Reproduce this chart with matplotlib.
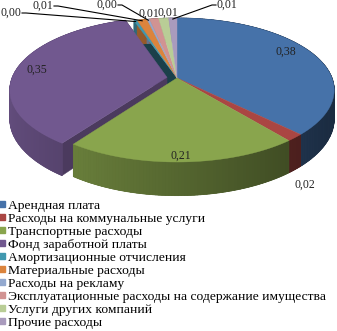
import numpy as np
import matplotlib.pyplot as plt
from matplotlib.lines import Line2D
from matplotlib.colors import to_rgb

plt.rcParams['font.family'] = ['Liberation Serif', 'DejaVu Serif']

categories = ['Арендная плата', 'Расходы на коммунальные услуги', 'Транспортные расходы',
              'Фонд заработной платы', 'Амортизационные отчисления', 'Материальные расходы',
              'Расходы на рекламу', 'Эксплуатационные расходы на содержание имущества',
              'Услуги других компаний', 'Прочие расходы']
shares = [0.376, 0.016, 0.206, 0.35, 0.004, 0.012, 0.003, 0.011, 0.012, 0.010]
colors = ['#4672A9', '#AA4643', '#89A54D', '#71588F', '#4198AF',
          '#DB843D', '#93A9CF', '#D19392', '#B9CD96', '#A99BBD']
pulled = 3  # Фонд заработной платы is pulled out

# label positions (pixels) and whether a leader line is drawn
lbl_pos = [(286, 52), (305, 185), (181, 156), (37, 70), (11, 13),
           (43, 6), (107, 5), (149, 14), (168, 13), (227, 5)]
leader = [None, None, None, None, 'r', 'r', 'r', None, None, 'l']

# fake 3d projection
cx, cy = 177, 78
F, G, p = 155, 70, 0.1667
D = 28
explode = 0.065


def proj(u, v, z=0.0):
    w = 1 + p * v
    return cx + F * u / w, cy - G * v / w + D * z / w


def shade(c, f):
    r, g, b = to_rgb(c)
    return (r * f, g * f, b * f)


fig = plt.figure(figsize=(3.37, 3.31), dpi=100)
ax = fig.add_axes([0, 0, 1, 1])
ax.set_xlim(0, 337)
ax.set_ylim(331, 0)
ax.axis('off')

fr = np.array(shares) / np.sum(shares)
ends = np.cumsum(fr) * 2 * np.pi
starts = ends - fr * 2 * np.pi

offs = []
for i in range(len(fr)):
    mid = (starts[i] + ends[i]) / 2
    e = explode if i == pulled else 0
    offs.append((e * np.sin(mid), e * np.cos(mid)))


def radial_face(i, ang, f):
    ou, ov = offs[i]
    pts = [proj(ou, ov, 0), proj(ou + np.sin(ang), ov + np.cos(ang), 0),
           proj(ou + np.sin(ang), ov + np.cos(ang), 1), proj(ou, ov, 1)]
    xs, ys = zip(*pts)
    ax.fill(xs, ys, color=shade(colors[i], f), lw=0.3)


# cut faces around the pulled slice
radial_face(pulled - 1, ends[pulled - 1], 0.5)
radial_face(pulled, ends[pulled], 0.5)
radial_face(pulled + 1, starts[pulled + 1], 0.42)
radial_face(pulled, starts[pulled], 0.66)

# outer walls: solid base, then gradient strips on top
for i in range(len(fr)):
    ou, ov = offs[i]
    th = np.linspace(starts[i], ends[i], max(3, int(np.degrees(ends[i] - starts[i])) + 2))
    top = [proj(ou + np.sin(t), ov + np.cos(t), 0) for t in th]
    bot = [proj(ou + np.sin(t), ov + np.cos(t), 1) for t in th]
    um = np.sin((starts[i] + ends[i]) / 2)
    xs, ys = zip(*(top + bot[::-1]))
    ax.fill(xs, ys, color=shade(colors[i], 0.62 - 0.25 * um), lw=0.3)
    for k in range(len(th) - 1):
        f = 0.62 - 0.25 * np.sin((th[k] + th[k + 1]) / 2)
        xs, ys = zip(top[k], top[k + 1], bot[k + 1], bot[k])
        ax.fill(xs, ys, color=shade(colors[i], f), lw=0.6)

# top faces
for i in range(len(fr)):
    ou, ov = offs[i]
    th = np.linspace(starts[i], ends[i], max(3, int(np.degrees(ends[i] - starts[i])) + 2))
    pts = [proj(ou, ov)] + [proj(ou + np.sin(t), ov + np.cos(t)) for t in th]
    xs, ys = zip(*pts)
    ax.fill(xs, ys, color=colors[i], lw=0.3)

# data labels
for i in range(len(fr)):
    txt = f'{shares[i]:.2f}'.replace('.', ',')
    lx, ly = lbl_pos[i]
    ax.text(lx, ly, txt, fontsize=8.5, ha='center', va='center', color='#222222')
    if leader[i]:
        mid = (starts[i] + ends[i]) / 2
        ou, ov = offs[i]
        tx, ty = proj(ou + np.sin(mid), ov + np.cos(mid))
        sx = lx + 11 if leader[i] == 'r' else lx - 11
        kx = sx + 4 if leader[i] == 'r' else sx - 4
        ax.plot([sx, kx, tx], [ly, ly, ty + 1], color='black', lw=0.8)

handles = [Line2D([], [], marker='s', color=c, linestyle='none', markersize=4.5) for c in colors]
fig.legend(handles, categories, loc='upper left', bbox_to_anchor=(-0.005, 1 - 199.5 / 331),
           frameon=False, fontsize=9.7, handlelength=0.5, handletextpad=0.25,
           labelspacing=0.04, borderaxespad=0, borderpad=0)

fig.savefig('out.png', dpi=100)
